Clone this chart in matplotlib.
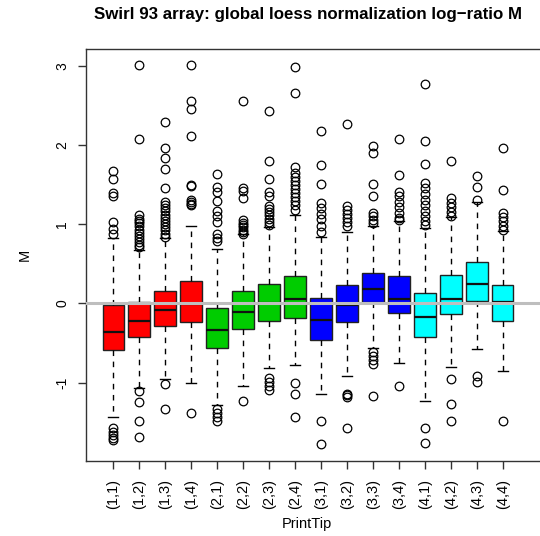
import matplotlib
matplotlib.use('Agg')
import matplotlib.pyplot as plt

plt.rcParams['font.family'] = ['Liberation Sans', 'DejaVu Sans']

# Print-tip groups and box statistics.
tips = ['(1,1)', '(1,2)', '(1,3)', '(1,4)', '(2,1)', '(2,2)', '(2,3)', '(2,4)',
        '(3,1)', '(3,2)', '(3,3)', '(3,4)', '(4,1)', '(4,2)', '(4,3)', '(4,4)']
colors = ['#ff0000'] * 4 + ['#00cc00'] * 4 + ['#0000ff'] * 4 + ['#00ffff'] * 4

q1 = [-0.59, -0.43, -0.29, -0.23, -0.57, -0.32, -0.22, -0.19,
      -0.46, -0.23, 0.02, -0.12, -0.42, -0.14, 0.025, -0.22]
med = [-0.36, -0.22, -0.09, -0.01, -0.34, -0.11, 0.0, 0.05,
       -0.21, -0.02, 0.185, 0.06, -0.17, 0.06, 0.25, 0.02]
q3 = [-0.02, 0.02, 0.155, 0.28, -0.06, 0.155, 0.25, 0.34,
      0.07, 0.235, 0.38, 0.34, 0.125, 0.36, 0.52, 0.235]
whislo = [-1.44, -1.07, -0.96, -1.01, -1.28, -1.04, -0.82, -0.78,
          -1.15, -0.92, -0.56, -0.75, -1.23, -0.80, -0.58, -0.85]
whishi = [0.82, 0.67, 0.83, 0.98, 0.69, 0.87, 0.96, 1.12,
          0.84, 0.90, 0.98, 1.04, 0.95, 1.09, 1.275, 0.91]

outliers = [
    [-1.58, -1.62, -1.66, -1.70, -1.73, 1.67, 1.57, 1.39, 1.36, 1.03, 0.94, 0.87],
    [-1.11, -1.25, -1.49, -1.69, 3.01, 2.07, 1.11, 1.07, 1.04, 1.01, 0.97, 0.93,
     0.89, 0.85, 0.81, 0.77, 0.74, 0.71],
    [-1.02, -1.33, 2.29, 1.96, 1.83, 1.69, 1.46, 1.28, 1.24, 1.20, 1.16, 1.12,
     1.08, 1.04, 1.00, 0.96, 0.92, 0.88, 0.84],
    [-1.38, 3.01, 2.55, 2.45, 2.11, 1.49, 1.48, 1.31, 1.28, 1.26, 1.24],
    [-1.34, -1.38, -1.43, -1.48, 1.63, 1.47, 1.41, 1.29, 1.16, 1.10, 1.03,
     0.87, 0.83, 0.79],
    [-1.23, 2.55, 1.46, 1.42, 1.33, 1.05, 1.02, 0.99, 0.96, 0.93, 0.90, 0.88],
    [-0.94, -0.99, -1.04, -1.09, 2.43, 1.80, 1.57, 1.40, 1.35, 1.23, 1.19,
     1.15, 1.11, 1.07, 1.03, 0.99],
    [-1.01, -1.15, -1.43, 2.98, 2.66, 1.72, 1.64, 1.59, 1.54, 1.49, 1.44,
     1.39, 1.34, 1.29, 1.24, 1.18],
    [-1.49, -1.78, 2.18, 1.75, 1.51, 1.27, 1.20, 1.13, 1.06, 0.98, 0.90],
    [-1.14, -1.16, -1.18, -1.57, 2.26, 1.23, 1.18, 1.13, 1.08, 1.03, 0.97],
    [-0.61, -0.66, -0.71, -0.77, -1.17, 1.99, 1.90, 1.51, 1.36, 1.14, 1.10,
     1.05, 1.01],
    [-1.05, 2.07, 1.62, 1.41, 1.35, 1.28, 1.21, 1.14, 1.08, 1.05],
    [-1.57, -1.76, 2.77, 2.05, 1.76, 1.52, 1.45, 1.38, 1.31, 1.24, 1.17,
     1.10, 1.04, 0.99],
    [-0.96, -1.27, -1.48, 1.80, 1.33, 1.27, 1.21, 1.15, 1.10],
    [-0.92, -0.99, 1.61, 1.47, 1.30],
    [-1.48, 1.96, 1.43, 1.14, 1.09, 1.04, 0.98, 0.93],
]

W, H = 540, 536
fig = plt.figure(figsize=(W / 100, H / 100), dpi=100)
ax = fig.add_axes([86 / W, 1 - 460.7 / H, (551 - 86) / W, (460.7 - 49.3) / H])

stats = []
for i in range(len(tips)):
    stats.append(dict(med=med[i], q1=q1[i], q3=q3[i], whislo=whislo[i],
                      whishi=whishi[i], fliers=outliers[i], label=tips[i]))

positions = list(range(1, len(tips) + 1))
bp = ax.bxp(stats, positions=positions, widths=0.83, capwidths=0.38,
            patch_artist=True, manage_ticks=False,
            boxprops=dict(edgecolor='#222222', linewidth=1.0),
            medianprops=dict(color='#111111', linewidth=1.6),
            whiskerprops=dict(color='black', linewidth=1.0, linestyle=(0, (4, 4))),
            capprops=dict(color='black', linewidth=1.0),
            flierprops=dict(marker='o', markerfacecolor='none',
                            markeredgecolor='black', markersize=6.2,
                            markeredgewidth=0.9))
for patch, c in zip(bp['boxes'], colors):
    patch.set_facecolor(c)

ax.axhline(0, color='#bebebe', linewidth=2.2, zorder=10)

ax.set_xlim(1 - (113.3 - 86) / 25.96, 1 + (551 - 113.3) / 25.96)
ax.set_ylim((303.3 - 460.7) / 79.2, (303.3 - 49.3) / 79.2)

ax.set_xticks(positions)
ax.set_xticklabels(tips, rotation=90, fontsize=10.5)
ax.set_yticks([-1, 0, 1, 2, 3])
ax.set_yticklabels(['-1', '0', '1', '2', '3'], rotation=90, va='center', fontsize=10)
ax.tick_params(direction='out', length=6, width=1, color='#333333', pad=7)
ax.tick_params(axis='y', pad=6)

for s in ax.spines.values():
    s.set_color('#333333')
    s.set_linewidth(1.0)

ax.set_xlabel('PrintTip', fontsize=10.5, va='center')
ax.set_ylabel('M', fontsize=10.5, va='center')
ax.xaxis.set_label_coords((307 - 86) / (551 - 86), (460.7 - 524) / (460.7 - 49.3))
ax.yaxis.set_label_coords((25 - 86) / (551 - 86), (460.7 - 255) / (460.7 - 49.3))

fig.text(308 / W, 1 - 15 / H, 'Swirl 93 array: global loess normalization log\u2212ratio M',
         ha='center', va='center', fontsize=12.2, fontweight='bold')

fig.savefig('out.png', dpi=100)
